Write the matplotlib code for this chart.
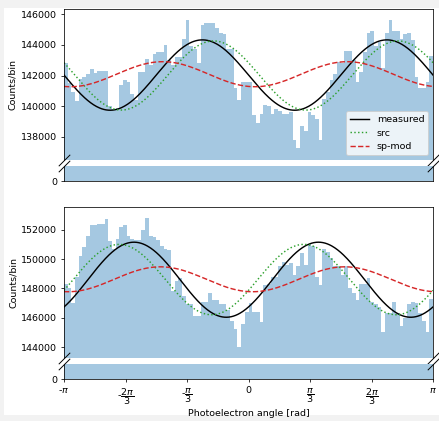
import numpy as np
import matplotlib
matplotlib.use("Agg")
import matplotlib.pyplot as plt
from matplotlib.patches import Rectangle

# ─── Data ─────────────────────────────────────────────────────────────────────

n_bins = 100
bin_edges = np.linspace(-np.pi, np.pi, n_bins + 1)

top_counts = [
    142800, 141500, 140900, 140350, 141800, 141900, 142100, 142400, 142150, 142300,
    142300, 142300, 140000, 139800, 139900, 141400, 141700, 141600, 140800, 140400,
    142200, 142200, 143100, 142700, 143400, 143550, 143500, 144000, 143000, 142700,
    143200, 143200, 144400, 145600, 143900, 143700, 142800, 145300, 145400, 145400,
    145450, 145100, 144800, 144700, 143700, 143700, 141200, 140400, 141600, 141600,
    141600, 139450, 138900, 139500, 140100, 140000, 139500, 139800, 139700, 139500,
    139500, 139600, 137800, 137250, 138700, 138400, 139600, 139400, 139200, 137800,
    140500, 140900, 141700, 142100, 142900, 142800, 143600, 143600, 143000, 141600,
    142200, 143500, 144800, 144900, 143900, 144200, 142500, 144800, 145600, 144900,
    144900, 144400, 144700, 144800, 144300, 141900, 141200, 141200, 141600, 143300,
]

bottom_counts = [
    148300, 148000, 147000, 148800, 150200, 150800, 151600, 152300, 152300, 152400,
    152400, 152700, 151200, 150700, 151400, 152200, 152300, 151600, 151400, 151300,
    151300, 152000, 152800, 151600, 151500, 151300, 150900, 150700, 150600, 147800,
    148500, 148700, 147500, 146900, 146900, 146100, 146100, 147100, 147100, 147700,
    147200, 147200, 146900, 146900, 146500, 145800, 145200, 144000, 145600, 146400,
    147000, 146400, 146400, 145700, 148200, 148300, 148800, 148800, 149500, 149800,
    149600, 149700, 148900, 149500, 150400, 149600, 151000, 150900, 148800, 148200,
    150700, 150500, 150100, 149500, 149500, 148900, 149500, 148000, 147700, 147200,
    148300, 148300, 148700, 147100, 146900, 146700, 145000, 146300, 146300, 147100,
    146300, 145400, 146000, 146900, 147100, 147000, 146300, 145800, 145000, 147300,
]

# fit parameters: offset, amplitude, angle of maximum  ->  offset + amp*cos(2(x - phi))
top_measured = [142030, 2290, -0.785]
top_src = [142000, 2250, -0.595]
top_spmod = [142085, 815, 1.68]

bottom_measured = [148590, 2560, -1.95]
bottom_src = [148600, 2400, -2.20]
bottom_spmod = [148620, 850, 1.64]

top_ylim = (136500, 146330)
bottom_ylim = (143250, 153550)
top_yticks = [138000, 140000, 142000, 144000, 146000]
bottom_yticks = [144000, 146000, 148000, 150000, 152000]

xtick_pos = [-np.pi, -2 * np.pi / 3, -np.pi / 3, 0, np.pi / 3, 2 * np.pi / 3, np.pi]
xtick_labels = [r"-$\pi$", r"-$\dfrac{2\pi}{3}$", r"-$\dfrac{\pi}{3}$", "0",
                r"$\dfrac{\pi}{3}$", r"$\dfrac{2\pi}{3}$", r"$\pi$"]


def fit_curve(x, params):
    off, amp, phi = params
    return off + amp * np.cos(2 * (x - phi))


# ─── Figure ───────────────────────────────────────────────────────────────────

dpi = 439 / 6.4
fig = plt.figure(figsize=(6.4, 421 / dpi), dpi=dpi, facecolor="#f2f2f2")
fig.patches.append(Rectangle((4 / 439, 6 / 421), 1, (415 - 8) / 421,
                             transform=fig.transFigure, facecolor="white",
                             edgecolor="none", zorder=-10))

left, width = 64 / 439, (433 - 64) / 439
ax_top = fig.add_axes([left, 1 - 160 / 421, width, 151 / 421])
ax_top_lo = fig.add_axes([left, 1 - 181 / 421, width, 15 / 421])
ax_bot = fig.add_axes([left, 1 - 358 / 421, width, 151 / 421])
ax_bot_lo = fig.add_axes([left, 1 - 379 / 421, width, 15 / 421])

x = np.linspace(-np.pi, np.pi, 500)
widths = np.diff(bin_edges)

panels = [
    (ax_top, ax_top_lo, top_counts, (top_measured, top_src, top_spmod), top_ylim, top_yticks),
    (ax_bot, ax_bot_lo, bottom_counts, (bottom_measured, bottom_src, bottom_spmod), bottom_ylim, bottom_yticks),
]

brk = dict(marker=[(-1, -1), (1, 1)], markersize=12, linestyle="none",
           color="k", mec="k", mew=1, clip_on=False)

for ax, lo, counts, (meas, src, spm), ylim, yticks in panels:
    for a in (ax, lo):
        a.bar(bin_edges[:-1], counts, width=widths, align="edge",
              color="C0", alpha=0.4, linewidth=0)
        a.set_xlim(-np.pi, np.pi)

    ax.plot(x, fit_curve(x, meas), "k-", label="measured")
    ax.plot(x, fit_curve(x, src), "C2:", label="src")
    ax.plot(x, fit_curve(x, spm), "C3--", label="sp-mod")

    ax.set_ylim(*ylim)
    ax.set_yticks(yticks)
    ax.set_ylabel("Counts/bin")
    ax.spines["bottom"].set_visible(False)
    ax.tick_params(bottom=False, labelbottom=False)

    lo.set_ylim(0, 1000)
    lo.set_yticks([0])
    lo.spines["top"].set_visible(False)

    ax.plot([0, 1], [0, 0], transform=ax.transAxes, **brk)
    lo.plot([0, 1], [1, 1], transform=lo.transAxes, **brk)

ax_top_lo.tick_params(bottom=False, labelbottom=False)
ax_bot_lo.set_xticks(xtick_pos)
ax_bot_lo.set_xticklabels(xtick_labels)
ax_bot_lo.set_xlabel("Photoelectron angle [rad]", labelpad=2)

ax_top.legend(loc="lower right")

fig.savefig("out.png", dpi=dpi, facecolor=fig.get_facecolor())
